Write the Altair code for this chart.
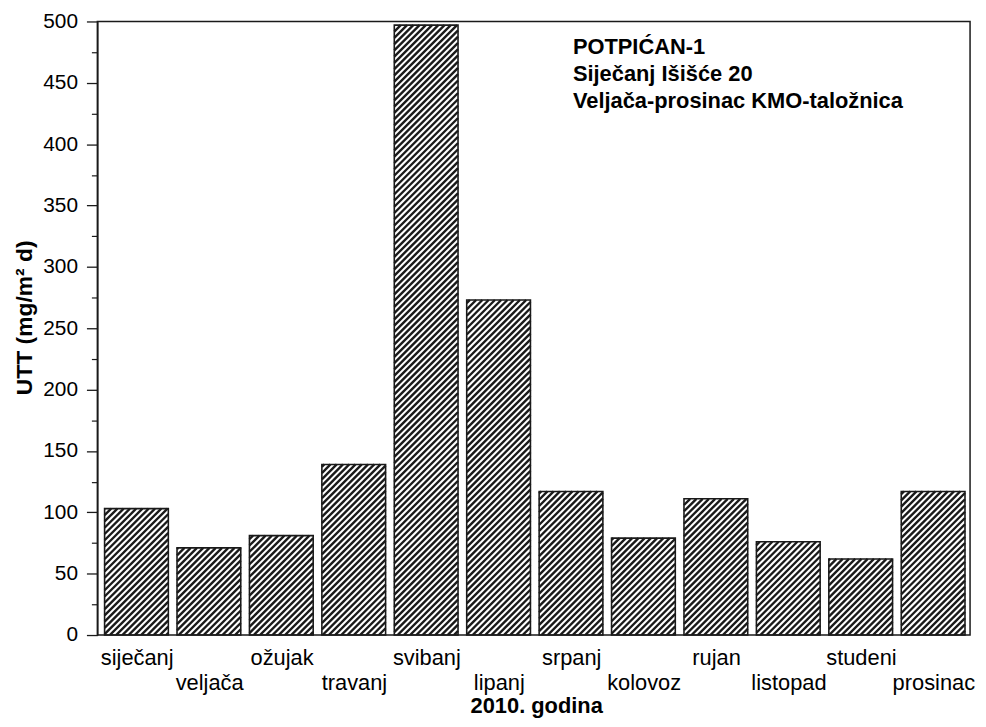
import altair as alt
import pandas as pd
import numpy as np

# ---- data ----
months = ["siječanj", "veljača", "ožujak", "travanj", "svibanj", "lipanj",
          "srpanj", "kolovoz", "rujan", "listopad", "studeni", "prosinac"]
values = [103, 71, 81, 139, 497, 273, 117, 79, 111, 76, 62, 117]
y_ticks = list(range(0, 501, 50))
y_minor = list(range(25, 500, 50))
x_ticks = list(range(0, 13))
note_lines = ["POTPIĆAN-1", "Siječanj Išišće 20", "Veljača-prosinac KMO-taložnica"]
x_title = "2010. godina"
y_title = "UTT (mg/m² d)"

# ---- layout / style ----
W, H = 879, 618
XDOM = [-0.05, 12]
YDOM = [0, 500]
BAR_A, BAR_B = 0.05, 0.93          # bar extent inside each month slot
FONT = "Liberation Sans"
HATCH_PERIOD = 6.3                  # px, horizontal period of the hatching
INK = "#1a1a1a"

idx = list(range(len(months)))
df = pd.DataFrame({
    "month": months,
    "value": values,
    "idx": idx,
    "x0": [i + BAR_A for i in idx],
    "x1": [i + BAR_B for i in idx],
    "mid": [i + 0.5 for i in idx],
    "zero": [0] * len(months),
})

# hatching lines (decoration) clipped to each bar, built from the bar values
kx = W / (XDOM[1] - XDOM[0])
ky = H / (YDOM[1] - YDOM[0])
rows = []
for i, v in zip(idx, values):
    xl = (i + BAR_A - XDOM[0]) * kx
    xr = (i + BAR_B - XDOM[0]) * kx
    h = v * ky
    kmin = int(np.floor((xl - h) / HATCH_PERIOD)) - 1
    kmax = int(np.ceil(xr / HATCH_PERIOD)) + 1
    for k in range(kmin, kmax + 1):
        c = k * HATCH_PERIOD
        xs = max(xl, c)
        xe = min(xr, h + c)
        if xe - xs > 0.3:
            rows.append({
                "xs": xs / kx + XDOM[0], "xe": xe / kx + XDOM[0],
                "ys": (xs - c) / ky, "ye": (xe - c) / ky,
            })
hatch_df = pd.DataFrame(rows)

xscale = alt.Scale(domain=XDOM, nice=False, zero=False)
yscale = alt.Scale(domain=YDOM, nice=False, zero=False)

y_axis = alt.Axis(values=y_ticks, title=y_title, grid=False, tickSize=11,
                  tickWidth=1.3, tickColor=INK, domainColor=INK, domainWidth=1.5,
                  labelFont=FONT, labelFontSize=21, labelColor="black", labelPadding=9,
                  titleFont=FONT, titleFontSize=23, titleFontWeight="bold",
                  titleColor="black", titleAngle=270, titleBaseline="alphabetic",
                  titleX=-66, titleY=298, titleAlign="center", orient="left")
x_axis = alt.Axis(values=x_ticks, labels=False, grid=False, tickSize=7,
                  tickWidth=1.3, tickColor=INK, domainColor=INK, domainWidth=1.5,
                  title=None, orient="bottom")

hatch = alt.Chart(hatch_df).mark_rule(color=INK, strokeWidth=2.4, clip=True).encode(
    x=alt.X("xs:Q", scale=xscale, axis=None), x2="xe:Q",
    y=alt.Y("ys:Q", scale=yscale, axis=None), y2="ye:Q",
)

bars = alt.Chart(df).mark_rect(fillOpacity=0, stroke=INK, strokeWidth=1.6).encode(
    x=alt.X("x0:Q", scale=xscale, axis=x_axis), x2="x1:Q",
    y=alt.Y("value:Q", scale=yscale, axis=y_axis), y2="zero:Q",
)

minor = alt.Chart(df).mark_point(opacity=0).encode(
    y=alt.Y("value:Q", scale=yscale,
            axis=alt.Axis(values=y_minor, labels=False, domain=False, grid=False,
                          tickSize=6, tickWidth=1.2, tickColor=INK, title=None,
                          orient="left")),
)

lab_style = dict(font=FONT, fontSize=22, color="black", align="center",
                 baseline="alphabetic")
labels_up = alt.Chart(df).transform_filter("datum.idx % 2 == 0").mark_text(**lab_style).encode(
    x=alt.X("mid:Q", scale=xscale, axis=None), y=alt.value(H + 30), text="month:N")
labels_down = alt.Chart(df).transform_filter("datum.idx % 2 == 1").mark_text(**lab_style).encode(
    x=alt.X("mid:Q", scale=xscale, axis=None), y=alt.value(H + 55), text="month:N")

xtitle = alt.Chart(df).transform_filter("datum.idx == 0").mark_text(
    text=x_title, font=FONT, fontSize=22, fontWeight="bold", color="black",
    align="center", baseline="alphabetic",
).encode(x=alt.value(W / 2 + 3), y=alt.value(H + 79))

note = alt.Chart(df).transform_filter("datum.idx == 0").mark_text(
    text=note_lines, font=FONT, fontSize=22, fontWeight="bold", color="black",
    align="left", baseline="alphabetic", lineHeight=27,
).encode(x=alt.value(479), y=alt.value(33))

chart = alt.layer(hatch, bars, minor, labels_up, labels_down, xtitle, note).resolve_axis(
    y="independent"
).properties(
    width=W, height=H, autosize="none",
    padding={"left": 90, "top": 11, "right": 8, "bottom": 82},
    background="white",
).configure_view(stroke=INK, strokeWidth=1.5)

chart.save("out.html", embed_options={"renderer": "svg", "actions": False})
